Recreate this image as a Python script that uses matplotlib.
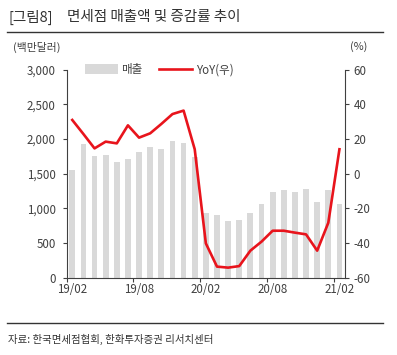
import matplotlib
matplotlib.use("Agg")
import matplotlib.pyplot as plt
from matplotlib.lines import Line2D
from matplotlib.patches import Patch

plt.rcParams['font.family'] = ['Noto Sans CJK KR', 'DejaVu Sans']
plt.rcParams['axes.unicode_minus'] = False

months = ["19/02", "19/03", "19/04", "19/05", "19/06", "19/07", "19/08", "19/09", "19/10",
          "19/11", "19/12", "20/01", "20/02", "20/03", "20/04", "20/05", "20/06", "20/07",
          "20/08", "20/09", "20/10", "20/11", "20/12", "21/01", "21/02"]
sales = [1560, 1927, 1751, 1770, 1669, 1717, 1818, 1881, 1852, 1967, 1948, 1745,
         930, 904, 813, 832, 933, 1058, 1231, 1260, 1231, 1274, 1096, 1260, 1063]
yoy = [31.0, 22.9, 14.6, 18.5, 17.5, 27.9, 20.8, 23.3, 28.7, 34.4, 36.4, 14.1,
       -40.2, -53.6, -54.2, -53.3, -44.4, -39.2, -32.9, -32.9, -34.0, -35.0, -44.4, -28.3, 14.1]
label_months = ["19/02", "19/08", "20/02", "20/08", "21/02"]

txt = '#404040'
W, H = 397, 355
fig = plt.figure(figsize=(W / 100, H / 100), dpi=100)
ax = fig.add_axes([66.7 / W, 1 - 277.7 / H, (345 - 66.7) / W, (277.7 - 69.7) / H])
ax2 = ax.twinx()

x = list(range(len(months)))
ax.bar(x, sales, width=0.52, color='#d9d9d9', zorder=1)
ax2.plot(x, yoy, color='#e8141c', lw=1.9, zorder=3)

ax.set_xlim(-0.5, len(months) - 0.5)
ax.set_ylim(0, 3000)
ax2.set_ylim(-60, 60)
ax.set_yticks(range(0, 3001, 500))
ax.set_yticklabels([f"{v:,}" for v in range(0, 3001, 500)])
ax2.set_yticks(range(-60, 61, 20))

lab_idx = [months.index(m) for m in label_months]
ax.set_xticks([i - 0.5 for i in lab_idx])
ax.set_xticklabels([])
ax.set_xticks(lab_idx, minor=True)
ax.set_xticklabels(label_months, minor=True)
ax.tick_params(axis='x', which='major', length=3, color='#404040', direction='out')
ax.tick_params(axis='x', which='minor', length=0, pad=4, labelsize=8.3, labelcolor=txt)
ax.tick_params(axis='y', length=3, pad=5, labelsize=8.3, labelcolor=txt, color='#404040')
ax2.tick_params(axis='y', length=3, pad=3, labelsize=8.3, labelcolor=txt, color='#404040')

for a in (ax, ax2):
    a.spines['top'].set_visible(False)
    for s in ('left', 'right', 'bottom'):
        a.spines[s].set_color('#404040')
        a.spines[s].set_linewidth(0.8)
ax.spines['right'].set_visible(False)
ax2.spines['left'].set_visible(False)
ax2.spines['bottom'].set_visible(False)

handles = [Patch(facecolor='#d9d9d9', edgecolor='none'),
           Line2D([0], [0], color='#e8141c', lw=1.9)]
leg = ax2.legend(handles, ['매출', 'YoY(우)'], loc='center left', bbox_to_anchor=(0.066, 1.0),
                 ncol=2, frameon=False, fontsize=8.3, handlelength=2.85, handleheight=0.9,
                 columnspacing=1.45, handletextpad=0.3, borderpad=0, borderaxespad=0,
                 labelcolor=txt)

fig.text(8 / W, 1 - 17 / H, '[그림8]', fontsize=10.5, color='#333333', va='center')
fig.text(67 / W, 1 - 17 / H, '면세점 매출액 및 증감률 추이', fontsize=10.5, color='#333333', va='center')
fig.add_artist(Line2D([7 / W, 383 / W], [1 - 31.7 / H, 1 - 31.7 / H], color='#333333', lw=1.0))
fig.text(13 / W, 1 - 47 / H, '(백만달러)', fontsize=7.8, color=txt, va='center')
fig.text(350 / W, 1 - 47 / H, '(%)', fontsize=7.8, color=txt, va='center')
fig.add_artist(Line2D([7 / W, 383 / W], [1 - 323.3 / H, 1 - 323.3 / H], color='#333333', lw=1.0))
fig.text(8 / W, 1 - 339 / H, '자료: 한국면세점협회, 한화투자증권 리서치센터', fontsize=7.5, color='#333333', va='center')

fig.savefig('out.png', dpi=100)
